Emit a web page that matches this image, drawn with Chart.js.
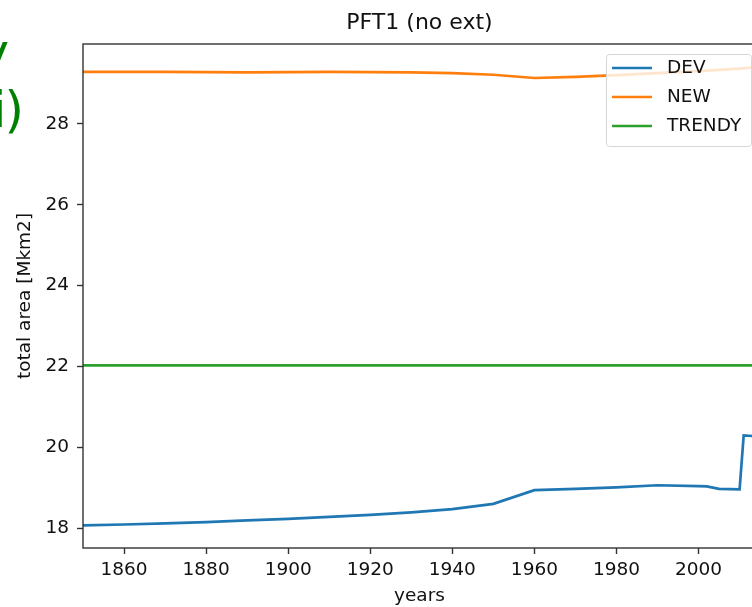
<!DOCTYPE html>
<html>
<head>
<meta charset="utf-8">
<script src="https://cdn.jsdelivr.net/npm/chart.js@4.4.0/dist/chart.umd.min.js"></script>
<style>
  html, body { margin: 0; padding: 0; background: #fff; overflow: hidden; }
  #wrap { width: 752px; height: 607px; overflow: hidden; }
  canvas { display: block; }
</style>
</head>
<body>
<div id="wrap"><canvas id="myChart" width="780" height="607"></canvas></div>
<script>
// data
const devYears = [1850, 1860, 1870, 1880, 1890, 1900, 1910, 1920, 1930, 1940, 1950, 1960, 1970, 1980, 1990, 2000, 2002, 2005, 2010, 2011, 2014];
const devValues = [18.08, 18.10, 18.13, 18.16, 18.20, 18.24, 18.29, 18.34, 18.40, 18.48, 18.61, 18.95, 18.98, 19.02, 19.07, 19.05, 19.04, 18.98, 18.97, 20.30, 20.28];

const newYears = [1850, 1870, 1890, 1910, 1930, 1940, 1950, 1960, 1970, 1980, 1990, 2000, 2010, 2014];
const newValues = [29.28, 29.28, 29.27, 29.28, 29.27, 29.25, 29.21, 29.13, 29.16, 29.20, 29.25, 29.30, 29.36, 29.40];

const trendyYears = [1850, 2014];
const trendyValues = [22.03, 22.03];

const xTicks = [1860, 1880, 1900, 1920, 1940, 1960, 1980, 2000];
const yTicks = [18, 20, 22, 24, 26, 28];

const font = 'DejaVu Sans';
const textColor = '#111';

function toPoints(xs, ys) {
    return xs.map((x, i) => ({x: x, y: ys[i]}));
}

// spines + legend box drawn on top of the lines (like matplotlib)
const frameAndLegend = {
    id: 'frameAndLegend',
    afterDatasetsDraw(chart) {
        const {ctx, chartArea: a} = chart;
        ctx.save();
        ctx.strokeStyle = '#333';
        ctx.lineWidth = 1.4;
        ctx.strokeRect(a.left, a.top, a.right - a.left, a.bottom - a.top);

        const w = 145, h = 92;
        const x = a.right - 5 - w, y = a.top + 10;
        ctx.beginPath();
        ctx.roundRect(x + 0.5, y + 0.5, w, h, 3);
        ctx.fillStyle = 'rgba(255,255,255,0.8)';
        ctx.fill();
        ctx.strokeStyle = '#d6d6d6';
        ctx.lineWidth = 1;
        ctx.stroke();

        ctx.font = '18.5px "' + font + '"';
        ctx.textBaseline = 'middle';
        ctx.textAlign = 'left';
        chart.data.datasets.forEach((ds, i) => {
            const ry = y + 14 + i * 29;
            ctx.strokeStyle = ds.borderColor;
            ctx.lineWidth = 2.7;
            ctx.beginPath();
            ctx.moveTo(x + 6, ry);
            ctx.lineTo(x + 46, ry);
            ctx.stroke();
            ctx.fillStyle = textColor;
            ctx.fillText(ds.label, x + 61, ry);
        });
        ctx.restore();
    },
    afterDraw(chart) {
        // cut-off green annotation from the neighbouring panel
        const ctx = chart.ctx;
        ctx.save();
        ctx.fillStyle = '#008000';
        ctx.font = '50px "' + font + '"';
        ctx.textAlign = 'right';
        ctx.textBaseline = 'alphabetic';
        ctx.fillText('y', 9, 69);
        ctx.fillText('i', 6.5, 127);
        ctx.fillText(')', 24, 127);
        ctx.restore();
    }
};

const ctx = document.getElementById('myChart').getContext('2d');
new Chart(ctx, {
    type: 'line',
    data: {
        datasets: [
            {label: 'DEV', data: toPoints(devYears, devValues), borderColor: '#1f77b4'},
            {label: 'NEW', data: toPoints(newYears, newValues), borderColor: '#ff7f0e'},
            {label: 'TRENDY', data: toPoints(trendyYears, trendyValues), borderColor: '#2ca02c'}
        ]
    },
    options: {
        responsive: false,
        animation: false,
        devicePixelRatio: 1,
        layout: {padding: {top: 0, left: 0, right: 24, bottom: 0}},
        elements: {
            line: {borderWidth: 2.7, tension: 0},
            point: {radius: 0}
        },
        plugins: {
            legend: {display: false},
            tooltip: {enabled: false},
            title: {
                display: true,
                text: 'PFT1 (no ext)',
                fullSize: false,
                color: textColor,
                font: {family: font, size: 22, weight: 'normal'},
                padding: {top: 10, bottom: 7.6}
            }
        },
        scales: {
            x: {
                type: 'linear',
                min: 1850,
                max: 2014,
                afterFit: s => { s.height = 59; },
                afterBuildTicks: s => { s.ticks = xTicks.map(v => ({value: v})); },
                grid: {drawOnChartArea: false, drawTicks: true, tickLength: 6, tickWidth: 1.4, tickColor: '#333'},
                border: {display: false},
                ticks: {color: textColor, padding: 5, maxRotation: 0, font: {family: font, size: 18.5}, callback: v => String(v)},
                title: {display: true, text: 'years', color: textColor, font: {family: font, size: 18.5}, padding: {top: 0, bottom: 0}}
            },
            y: {
                type: 'linear',
                min: 17.52,
                max: 29.97,
                afterFit: s => { s.width = 83; },
                afterBuildTicks: s => { s.ticks = yTicks.map(v => ({value: v})); },
                grid: {drawOnChartArea: false, drawTicks: true, tickLength: 6, tickWidth: 1.4, tickColor: '#333'},
                border: {display: false},
                ticks: {color: textColor, padding: 8, font: {family: font, size: 18.5}, callback: v => String(v)},
                title: {display: true, text: 'total area [Mkm2]', color: textColor, font: {family: font, size: 18.5}, padding: {top: 14, bottom: 0}}
            }
        }
    },
    plugins: [frameAndLegend]
});
</script>
</body>
</html>
